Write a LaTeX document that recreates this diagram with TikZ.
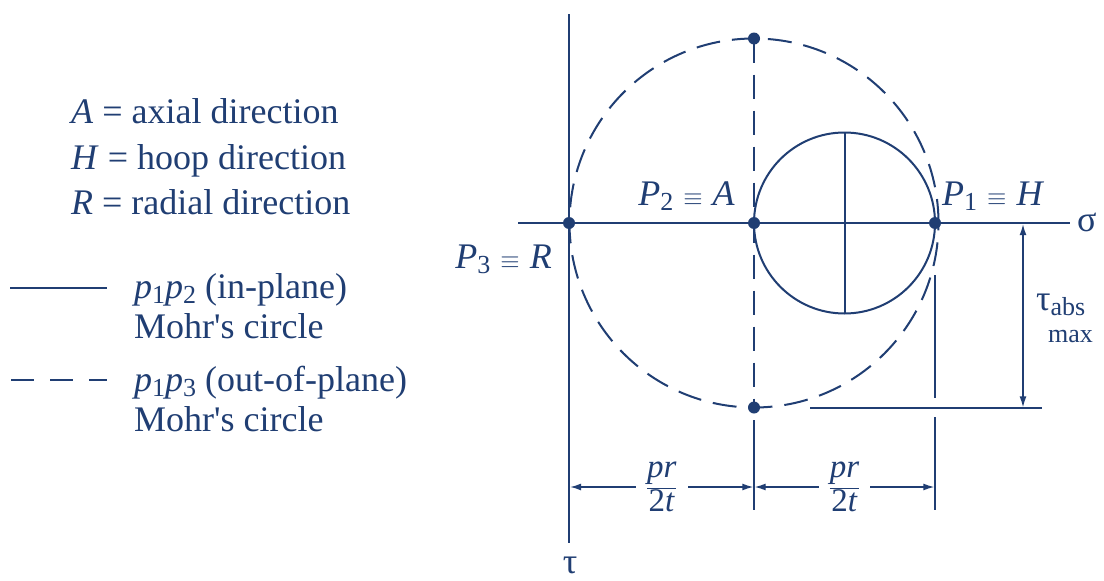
\documentclass[tikz,border=0pt]{standalone}
\usepackage{fontspec}
\setmainfont{Liberation Serif}
\usetikzlibrary{arrows.meta}
\definecolor{ink}{RGB}{32,62,115}
\newcommand{\lowsub}[1]{\raisebox{-0.35ex}{\fontsize{26}{26}\selectfont #1}}
\newcommand{\prfrac}{$\displaystyle\frac{\textit{pr}}{\mbox{2\textit{t}}}$}
\begin{document}
\begin{tikzpicture}[x=1pt,y=-1pt,
  every node/.style={text=ink, font=\fontsize{36}{42}\selectfont, inner sep=0pt},
  axis/.style={draw=ink, line width=2.1pt},
  solidc/.style={draw=ink, line width=2pt},
  dashc/.style={draw=ink, line width=2pt, dash pattern=on 24pt off 12pt},
  extline/.style={draw=ink, line width=1.4pt},
  dimarrow/.style={draw=ink, line width=1.4pt, {Latex[length=11pt,width=7pt]}-{Latex[length=11pt,width=7pt]}},
  dot/.style={circle, fill=ink, inner sep=0pt, minimum size=12pt},
  lbl/.style={anchor=base west}]
\useasboundingbox (0,0) rectangle (1104,581);
\fill[white] (0,0) rectangle (1104,581);

% axes
\coordinate (tautop) at (569,14);
\coordinate (taubot) at (569,543);
\coordinate (sigL) at (518,223);
\coordinate (sigR) at (1070,223);
\draw[axis] (tautop) -- (taubot);
\draw[axis] (sigL) -- (sigR);

% circles
\coordinate (C) at (844.5,223);
\coordinate (D) at (754,223);
\coordinate (Ctop) at (844.5,132.5);
\coordinate (Cbot) at (844.5,313.5);
\draw[dashc] (D) circle[radius=184.5pt];
\draw[solidc] (C) circle[radius=90.5pt];
\draw[solidc] (Ctop) -- (Cbot);

% dots
\node[dot] (P3) at (569,223) {};
\node[dot] (P2) at (754,223) {};
\node[dot] (P1) at (935,223) {};
\node[dot] (Ptop) at (754,38.5) {};
\node[dot] (Pbot) at (754,407.5) {};
\draw[dashc] (Ptop.center) -- (Pbot.center);

% extension lines
\coordinate (e1a) at (754,420);
\coordinate (e1b) at (754,510);
\coordinate (e2a) at (935,275);
\coordinate (e2b) at (935,398);
\coordinate (e2c) at (935,417);
\coordinate (e2d) at (935,510);
\coordinate (h1) at (810,408);
\coordinate (h2) at (1042,408);
\draw[extline] (e1a) -- (e1b);
\draw[extline] (e2a) -- (e2b);
\draw[extline] (e2c) -- (e2d);
\draw[extline] (h1) -- (h2);

% tau abs max dimension
\coordinate (va) at (1023,224.2);
\coordinate (vb) at (1023,407.3);
\draw[dimarrow] (va) -- (vb);
\node[anchor=base west] (tauabs) at (1036,310) {τ\lowsub{abs}};
\node[anchor=base west, font=\fontsize{26}{26}\selectfont] (maxlbl) at (1048,342) {max};

% bottom dimensions
\coordinate (d1) at (570.1,487);
\coordinate (d2) at (753.3,487);
\coordinate (d3) at (754.7,487);
\coordinate (d4) at (934.3,487);
\draw[dimarrow] (d1) -- node[fill=white, inner xsep=10pt, inner ysep=2pt, font=\fontsize{33}{40}\selectfont] (f1) {\prfrac} (d2);
\draw[dimarrow] (d3) -- node[fill=white, inner xsep=10pt, inner ysep=2pt, font=\fontsize{33}{40}\selectfont] (f2) {\prfrac} (d4);

% point labels
\node[anchor=base east] (lP2) at (735,205) {\textit{P}\lowsub{2}\;$\equiv$\;\textit{A}};
\node[anchor=base west] (lP1) at (942,205) {\textit{P}\lowsub{1}\;$\equiv$\;\textit{H}};
\node[anchor=base east] (lP3) at (552,268) {\textit{P}\lowsub{3}\;$\equiv$\;\textit{R}};
\node[anchor=base west] (lsig) at (1077,231) {σ};
\node[anchor=base] (ltau) at (570,573) {τ};

% legend
\node[lbl] (la) at (71,123) {\textit{A} = axial direction};
\node[lbl] (lh) at (71,169) {\textit{H} = hoop direction};
\node[lbl] (lr) at (71,214) {\textit{R} = radial direction};

\coordinate (s1) at (10,288);
\coordinate (s2) at (107,288);
\draw[solidc] (s1) -- (s2);
\node[lbl] (l1a) at (134,298) {\textit{p}\lowsub{1}\textit{p}\lowsub{2} (in-plane)};
\node[lbl] (l1b) at (134,338) {Mohr\textquotesingle s circle};

\coordinate (q1) at (11,380);
\coordinate (q2) at (107,380);
\draw[draw=ink, line width=2pt, dash pattern=on 23pt off 16pt] (q1) -- (q2);
\node[lbl] (l2a) at (134,391) {\textit{p}\lowsub{1}\textit{p}\lowsub{3} (out-of-plane)};
\node[lbl] (l2b) at (134,431) {Mohr\textquotesingle s circle};
\end{tikzpicture}
\end{document}
